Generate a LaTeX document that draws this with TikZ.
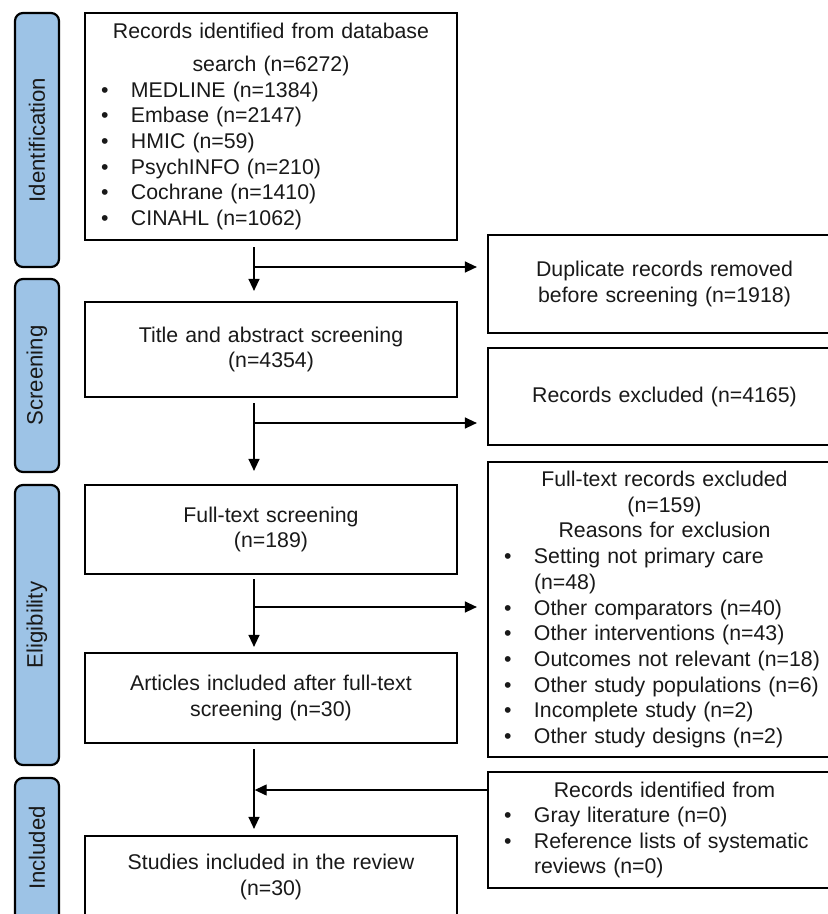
\documentclass[tikz,border=0pt]{standalone}
\usepackage{fontspec}
\setmainfont{Liberation Sans}
\usetikzlibrary{arrows.meta}
\definecolor{phasefill}{RGB}{157,195,230}
\definecolor{txt}{RGB}{25,25,25}
\newcommand{\bul}{\hspace*{16pt}\makebox[30pt][l]{\textbullet}}
\newcommand{\ind}{\hspace*{46pt}}
\newcommand{\ctr}[1]{\makebox[\linewidth][c]{#1}}
\begin{document}
\begin{tikzpicture}[x=1pt,y=-1pt,
  fbox/.style={draw=black, line width=2.2pt, inner xsep=0pt, inner ysep=0pt,
    font=\fontsize{21.3pt}{25.7pt}\selectfont, text=txt},
  lbox/.style={fbox, text width=372pt},
  rbox/.style={fbox, text width=353pt},
  phase/.style={draw=black, line width=2.2pt, fill=phasefill, rounded corners=8pt,
    rotate=90, minimum height=44pt, inner sep=0pt,
    font=\fontsize{22.2pt}{26pt}\selectfont, text=txt},
  phasetext/.style={rotate=90, inner sep=0pt, font=\fontsize{22.2pt}{26pt}\selectfont, text=txt},
  arr/.style={line width=1.3pt, -{Triangle[length=12pt,width=11pt]}}
]
\useasboundingbox (0,0) rectangle (828,914);
\clip (0,0) rectangle (828,914);
\fill[white] (0,0) rectangle (828,914);

% phase bars
\node[phase, minimum width=254pt] (p1) at (37,140) {Identification};
\node[phase, minimum width=193pt] (p2) at (37,375.5) {Screening};
\node[phase, minimum width=280pt] (p3) at (37,625) {Eligibility};
\node[phase, minimum width=170pt] (p4) at (37,863) {};
\node[phasetext] (p4t) at (37,848) {Included};

% left column
\node[lbox, align=left, minimum height=227pt] (b1) at (271,126.5) {%
\ctr{Records identified from database}\\[7.3pt]
\ctr{search (n=6272)}\\
\bul MEDLINE (n=1384)\\
\bul Embase (n=2147)\\
\bul HMIC (n=59)\\
\bul PsychINFO (n=210)\\
\bul Cochrane (n=1410)\\
\bul CINAHL (n=1062)};

\node[lbox, align=center, minimum height=95pt] (b2) at (271,349.5)
  {Title and abstract screening\\(n=4354)};
\node[lbox, align=center, minimum height=89pt] (b3) at (271,529.5)
  {Full-text screening\\(n=189)};
\node[lbox, align=center, minimum height=90pt] (b4) at (271,698)
  {Articles included after full-text\\screening (n=30)};
\node[lbox, align=center, minimum height=82pt] (b5) at (271,877)
  {Studies included in the review\\(n=30)};

% right column
\node[rbox, align=center, minimum height=98pt] (r1) at (664.5,284)
  {Duplicate records removed\\before screening (n=1918)};
\node[rbox, align=center, minimum height=97pt] (r2) at (664.5,396.5)
  {Records excluded (n=4165)};
\node[rbox, align=left, minimum height=295pt] (r3) at (664.5,609.5) {%
\ctr{Full-text records excluded}\\
\ctr{(n=159)}\\
\ctr{Reasons for exclusion}\\
\bul Setting not primary care\\
\ind (n=48)\\
\bul Other comparators (n=40)\\
\bul Other interventions (n=43)\\
\bul Outcomes not relevant (n=18)\\
\bul Other study populations (n=6)\\
\bul Incomplete study (n=2)\\
\bul Other study designs (n=2)};
\node[rbox, align=left, minimum height=116pt, font=\fontsize{21.3pt}{25.3pt}\selectfont] (r4) at (664.5,830) {%
\ctr{Records identified from}\\
\bul Gray literature (n=0)\\
\bul Reference lists of systematic\\
\ind reviews (n=0)};

% connectors
\coordinate (vx) at (254,0);
\coordinate (j1) at (254,267);
\coordinate (j2) at (254,423);
\coordinate (j3) at (254,607);
\coordinate (j4) at (254,790);

\draw[arr, shorten <=6pt, shorten >=10pt] (b1.south -| vx) -- (b2.north -| vx);
\draw[arr, shorten <=5pt, shorten >=13pt] (b2.south -| vx) -- (b3.north -| vx);
\draw[arr, shorten <=4pt, shorten >=5pt] (b3.south -| vx) -- (b4.north -| vx);
\draw[arr, shorten <=5pt, shorten >=6pt] (b4.south -| vx) -- (b5.north -| vx);

\draw[arr, shorten >=10pt] (j1) -- (j1 -| r1.west);
\draw[arr, shorten >=10pt] (j2) -- (j2 -| r2.west);
\draw[arr, shorten >=10pt] (j3) -- (j3 -| r3.west);
\draw[arr, shorten >=0.7pt] (j4 -| r4.west) -- (j4);
\end{tikzpicture}
\end{document}
